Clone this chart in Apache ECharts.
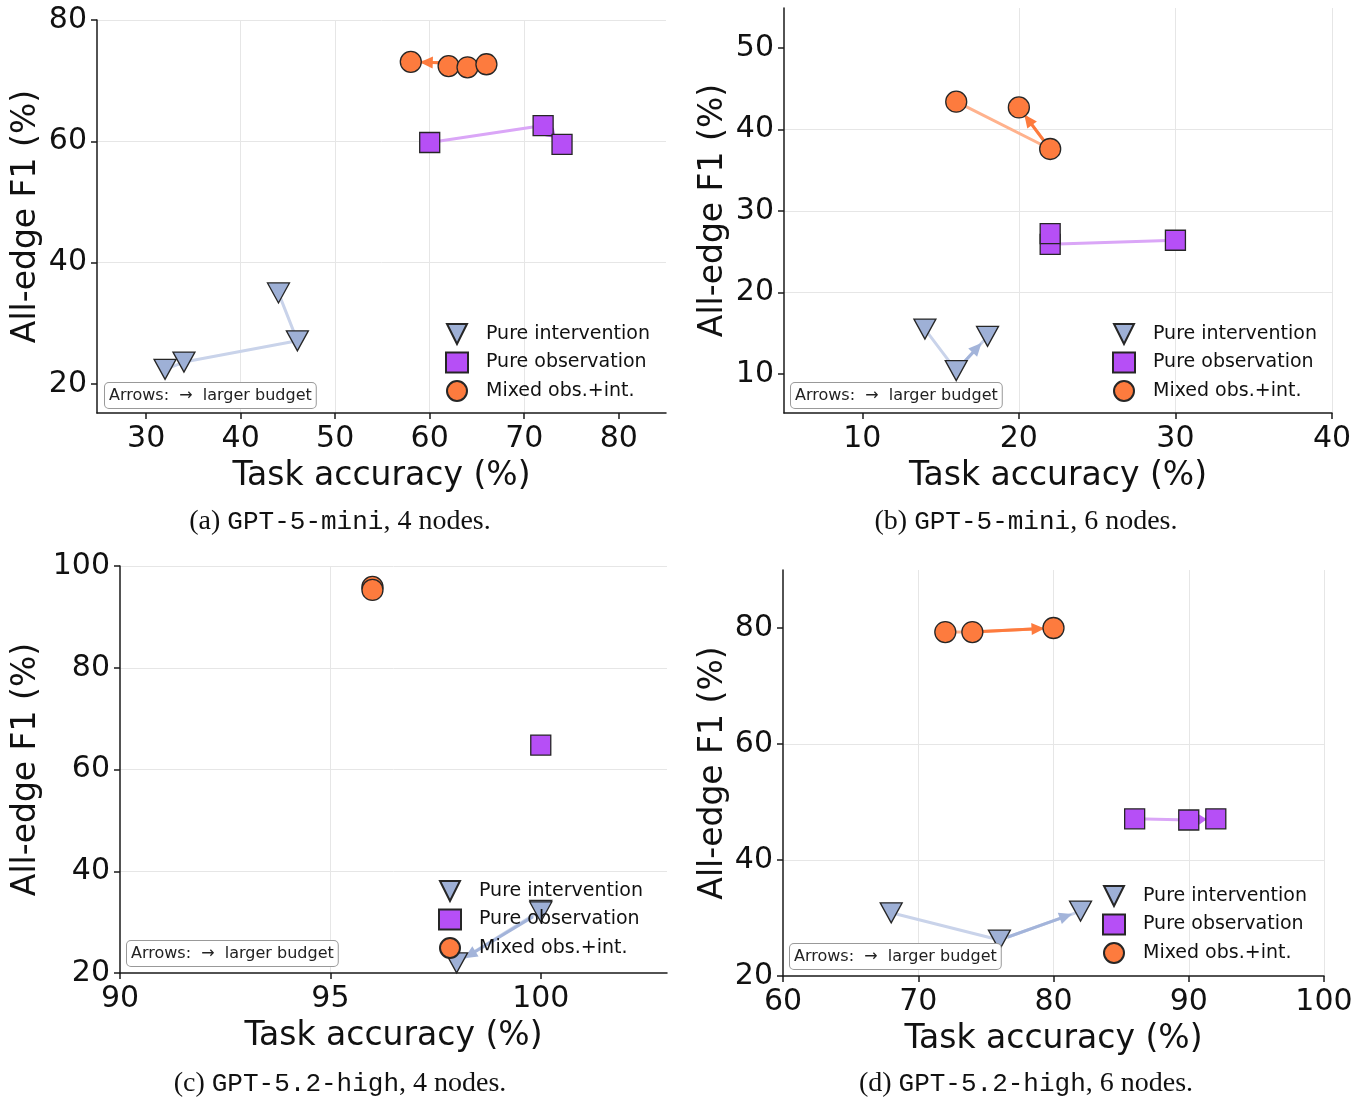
<!DOCTYPE html>
<html><head><meta charset="utf-8">
<script src="https://cdn.jsdelivr.net/npm/echarts@6/dist/echarts.min.js"></script>
<style>html,body{margin:0;padding:0;background:#fff}#c{width:1368px;height:1102px}</style>
</head><body><div id="c"></div><script>
// ---------- DATA ----------
const seriesNames = ['Pure intervention', 'Pure observation', 'Mixed obs.+int.'];

// (a) GPT-5-mini, 4 nodes  (points in budget order)
const a_int_x = [44, 46, 34, 32];
const a_int_y = [35.0, 27.1, 23.6, 22.4];
const a_obs_x = [60, 72, 74];
const a_obs_y = [59.8, 62.6, 59.5];
const a_mix_x = [62, 64, 66, 58];
const a_mix_y = [72.4, 72.2, 72.7, 73.1];
const a_xticks = [30, 40, 50, 60, 70, 80];
const a_yticks = [20, 40, 60, 80];

// (b) GPT-5-mini, 6 nodes
const b_int_x = [14, 16, 18];
const b_int_y = [15.5, 10.4, 14.6];
const b_obs_x = [30, 22, 22];
const b_obs_y = [26.4, 25.9, 27.2];
const b_mix_x = [16, 22, 20];
const b_mix_y = [43.4, 37.6, 42.7];
const b_xticks = [10, 20, 30, 40];
const b_yticks = [10, 20, 30, 40, 50];

// (c) GPT-5.2-high, 4 nodes
const c_int_x = [100, 100, 98];
const c_int_y = [32.3, 32.0, 22.0];
const c_obs_x = [100];
const c_obs_y = [64.8];
const c_mix_x = [96, 96];
const c_mix_y = [95.9, 95.3];
const c_xticks = [90, 95, 100];
const c_yticks = [20, 40, 60, 80, 100];

// (d) GPT-5.2-high, 6 nodes
const d_int_x = [68, 76, 82];
const d_int_y = [30.9, 26.2, 31.2];
const d_obs_x = [86, 90, 92];
const d_obs_y = [47.1, 46.9, 47.1];
const d_mix_x = [72, 74, 80];
const d_mix_y = [79.3, 79.3, 80.0];
const d_xticks = [60, 70, 80, 90, 100];
const d_yticks = [20, 40, 60, 80];

const captions = [
  ['(a) ', 'GPT-5-mini', ', 4 nodes.'],
  ['(b) ', 'GPT-5-mini', ', 6 nodes.'],
  ['(c) ', 'GPT-5.2-high', ', 4 nodes.'],
  ['(d) ', 'GPT-5.2-high', ', 6 nodes.']
];
const xTitle = 'Task accuracy (%)';
const yTitle = 'All-edge F1 (%)';
const boxText = 'Arrows:  \u2192  larger budget';

// ---------- LAYOUT / STYLE ----------
const panels = [
  {grid:{left:97, top:20, width:569, height:393}, xr:[24.8,85], yr:[15.2,80], xs:10, ys:20,
   xt:a_xticks, yt:a_yticks, yGap:54, showXMax:false, showYMax:true,
   data:[[a_int_x,a_int_y],[a_obs_x,a_obs_y],[a_mix_x,a_mix_y]],
   legend:{left:445, top:323}, box:[105,383], cap:[340,521]},
  {grid:{left:784, top:8, width:548, height:405}, xr:[5,40], yr:[5.2,54.9], xs:10, ys:10,
   xt:b_xticks, yt:b_yticks, yGap:54, showXMax:true, showYMax:false,
   data:[[b_int_x,b_int_y],[b_obs_x,b_obs_y],[b_mix_x,b_mix_y]],
   legend:{left:1112, top:323}, box:[791,383], cap:[1026,521]},
  {grid:{left:120, top:566, width:547, height:407}, xr:[90,103], yr:[20,100], xs:5, ys:20,
   xt:c_xticks, yt:c_yticks, yGap:77, showXMax:false, showYMax:true,
   data:[[c_int_x,c_int_y],[c_obs_x,c_obs_y],[c_mix_x,c_mix_y]],
   legend:{left:438, top:880}, box:[127,941], cap:[340,1083]},
  {grid:{left:783, top:570, width:541, height:406}, xr:[60,100], yr:[20,90], xs:10, ys:20,
   xt:d_xticks, yt:d_yticks, yGap:53, showXMax:true, showYMax:false,
   data:[[d_int_x,d_int_y],[d_obs_x,d_obs_y],[d_mix_x,d_mix_y]],
   legend:{left:1102, top:885}, box:[790,944], cap:[1026,1083]}
];

const TRI = 'path://M0,0L20,0L10,20Z';
const styles = [
  {symbol:TRI, size:[22,20], fill:'#9eb0d6', light:'#c9d3ea', arrow:'#a3b4da'},
  {symbol:'rect', size:[20,20], fill:'#b64ff6', light:'#daa6f7', arrow:'#c063f5'},
  {symbol:'circle', size:21, fill:'#fd7b3e', light:'#ffb28d', arrow:'#fd7b3e'}
];
const FONT = 'DejaVu Sans';

function arrowRender(color) {
  return function (params, api) {
    const p1 = api.coord([api.value(0), api.value(1)]);
    const p2 = api.coord([api.value(2), api.value(3)]);
    const dx = p2[0] - p1[0], dy = p2[1] - p1[1];
    const len = Math.hypot(dx, dy);
    const sA = 9, sB = 9;
    const L = len - sA - sB;
    if (L < 3) return null;
    const ux = dx / len, uy = dy / len;
    const sx = p1[0] + ux * sA, sy = p1[1] + uy * sA;
    const tx = p2[0] - ux * sB, ty = p2[1] - uy * sB;
    const hl = Math.min(13, L), hw = 6;
    const bx = tx - ux * hl, by = ty - uy * hl;
    return {type:'group', children:[
      {type:'line', shape:{x1:sx, y1:sy, x2:bx + ux, y2:by + uy}, style:{stroke:color, lineWidth:3}},
      {type:'polygon', shape:{points:[[tx,ty],[bx - uy*hw, by + ux*hw],[bx + uy*hw, by - ux*hw]]}, style:{fill:color}}
    ]};
  };
}

const grid = [], xAxis = [], yAxis = [], series = [], legend = [], graphic = [];
panels.forEach((p, i) => {
  grid.push(Object.assign({containLabel:false}, p.grid));
  const axisCommon = {
    axisLine:{show:true, onZero:false, lineStyle:{color:'#1a1a1a', width:1.5}},
    axisTick:{show:true, inside:false, length:6, lineStyle:{color:'#1a1a1a', width:1.5}},
    axisLabel:{fontSize:30, fontFamily:FONT, color:'#111'},
    nameLocation:'middle', nameTextStyle:{fontSize:33, fontFamily:FONT, color:'#111'}
  };
  xAxis.push(Object.assign({}, axisCommon, {
    type:'value', gridIndex:i, min:p.xr[0], max:p.xr[1], minInterval:p.xs, maxInterval:p.xs,
    name:xTitle, nameGap:47,
    axisLabel:Object.assign({}, axisCommon.axisLabel, {margin:11, customValues:p.xt}),
    axisTick:Object.assign({}, axisCommon.axisTick, {customValues:p.xt}),
    splitLine:{show:true, showMinLine:false, showMaxLine:p.showXMax, lineStyle:{color:'#e6e6e6', width:1}}
  }));
  yAxis.push(Object.assign({}, axisCommon, {
    type:'value', gridIndex:i, min:p.yr[0], max:p.yr[1], minInterval:p.ys, maxInterval:p.ys,
    name:yTitle, nameGap:p.yGap, nameRotate:90,
    axisLabel:Object.assign({}, axisCommon.axisLabel, {margin:10, customValues:p.yt}),
    axisTick:Object.assign({}, axisCommon.axisTick, {customValues:p.yt}),
    splitLine:{show:true, showMinLine:false, showMaxLine:p.showYMax, lineStyle:{color:'#e6e6e6', width:1}}
  }));
  p.data.forEach((d, k) => {
    const st = styles[k];
    const pts = d[0].map((x, j) => [x, d[1][j]]);
    series.push({type:'line', name:'path'+i+k, xAxisIndex:i, yAxisIndex:i, data:pts,
      symbol:'none', showSymbol:false, silent:true, z:1,
      lineStyle:{color:st.light, width:3}});
    if (pts.length >= 2) {
      const n = pts.length;
      series.push({type:'custom', name:'arrow'+i+k, xAxisIndex:i, yAxisIndex:i, z:2, silent:true, clip:false,
        encode:{x:[0,2], y:[1,3]},
        data:[[pts[n-2][0], pts[n-2][1], pts[n-1][0], pts[n-1][1]]],
        renderItem:arrowRender(st.arrow)});
    }
    series.push({type:'scatter', name:seriesNames[k], xAxisIndex:i, yAxisIndex:i, data:pts, z:3,
      symbol:st.symbol, symbolSize:st.size,
      itemStyle:{color:st.fill, borderColor:'#262626', borderWidth:1.3, opacity:1}});
  });
  legend.push({left:p.legend.left, top:p.legend.top, orient:'vertical', padding:0,
    itemWidth:22, itemHeight:20, itemGap:6.5, selectedMode:false, data:seriesNames,
    textStyle:{fontSize:19, fontFamily:FONT, color:'#111', padding:[0,0,0,13]}});
  graphic.push({type:'text', x:p.box[0], y:p.box[1], z:20,
    style:{text:boxText, fontSize:16, fontFamily:FONT, fill:'#222', backgroundColor:'#fff',
      borderColor:'#999', borderWidth:1, borderRadius:4, padding:[5,4,4,4]}});
  const c = captions[i];
  graphic.push({type:'text', x:p.cap[0], y:p.cap[1] + 1, z:20,
    style:{text:'{s|' + c[0] + '}{m|' + c[1] + '}{s|' + c[2] + '}', align:'center', verticalAlign:'middle',
      rich:{s:{fontFamily:'Liberation Serif', fontSize:28, fill:'#111'},
            m:{fontFamily:'Liberation Mono', fontSize:26, fill:'#111'}}}});
});

const chart = echarts.init(document.getElementById('c'), null, {renderer:'canvas'});
chart.setOption({animation:false, backgroundColor:'#fff', grid, xAxis, yAxis, series, legend, graphic});
</script></body></html>
